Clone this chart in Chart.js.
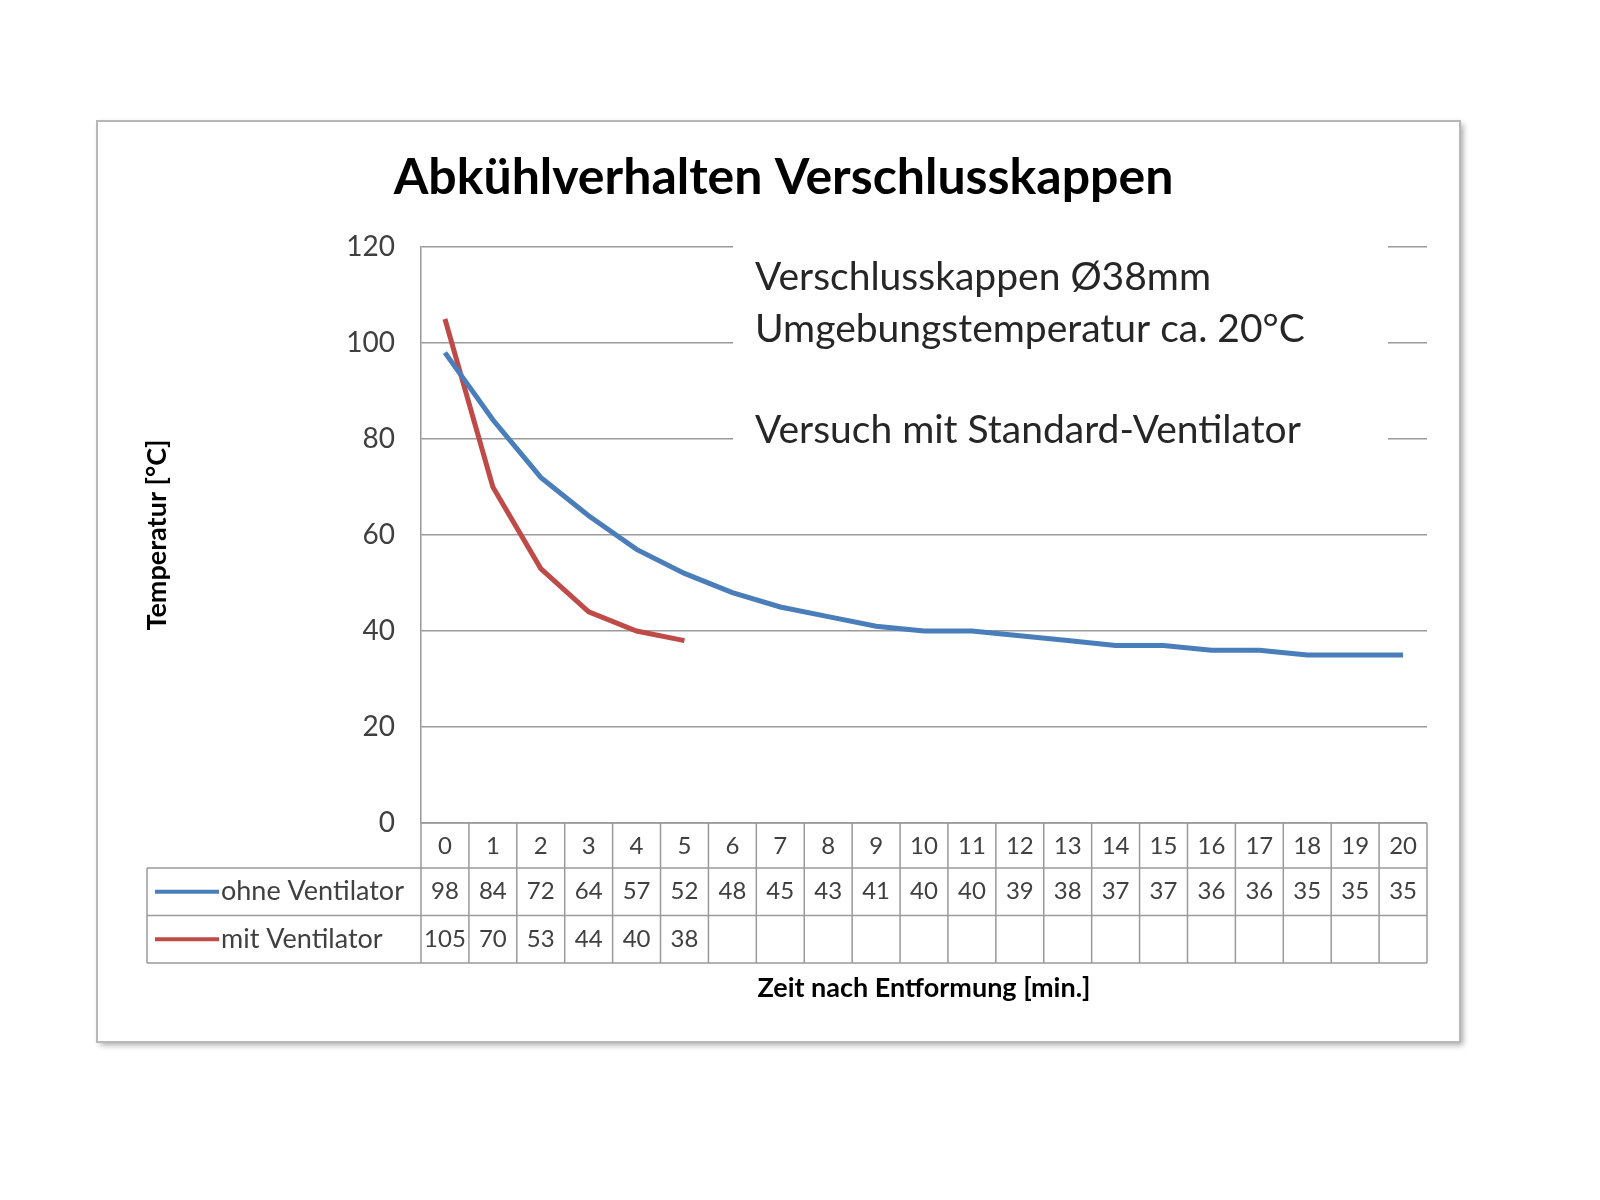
<!DOCTYPE html>
<html>
<head>
<meta charset="utf-8">
<title>Abkühlverhalten Verschlusskappen</title>
<script src="https://cdn.jsdelivr.net/npm/chart.js@4/dist/chart.umd.min.js"></script>
<style>
  html, body { margin: 0; padding: 0; background: #fff; }
  #wrap { width: 1600px; height: 1200px; }
</style>
</head>
<body>
<div id="wrap"><canvas id="chartCooling" width="1600" height="1200"></canvas></div>
<script>
// Zeit nach Entformung [min.]
var minutes = ['0', '1', '2', '3', '4', '5', '6', '7', '8', '9', '10',
               '11', '12', '13', '14', '15', '16', '17', '18', '19', '20'];
// Temperatur [°C]
var ohneVentilator = [98, 84, 72, 64, 57, 52, 48, 45, 43, 41, 40, 40, 39, 38, 37, 37, 36, 36, 35, 35, 35];
var mitVentilator = [105, 70, 53, 44, 40, 38];
var yTicks = [0, 20, 40, 60, 80, 100, 120];
var noteLines = ['Verschlusskappen Ø38mm', 'Umgebungstemperatur ca. 20°C', '', 'Versuch mit Standard-Ventilator'];

var blue = '#4a7ebb';
var red = '#be4b48';
var gridGray = '#9a9a9a';
var textGray = '#404040';
var fontName = 'Lato, "Open Sans", sans-serif';

// Rahmen um das ganze Diagramm
var framePlugin = {
    id: 'frame',
    beforeDraw: function (chart) {
        var ctx = chart.ctx;
        ctx.save();
        ctx.fillStyle = '#fff';
        ctx.fillRect(0, 0, chart.width, chart.height);
        ctx.shadowColor = 'rgba(0,0,0,0.35)';
        ctx.shadowBlur = 6;
        ctx.shadowOffsetX = 3;
        ctx.shadowOffsetY = 3;
        ctx.fillRect(97, 121, 1363, 921);
        ctx.shadowColor = 'transparent';
        ctx.strokeStyle = '#b8b8b8';
        ctx.lineWidth = 2;
        ctx.strokeRect(97, 121, 1363, 921);
        ctx.restore();
    }
};

// Datentabelle unter der Achse (wie in Excel)
var tablePlugin = {
    id: 'dataTable',
    afterDraw: function (chart) {
        var ctx = chart.ctx;
        var x = chart.scales.x;
        var area = chart.chartArea;
        var half = (x.getPixelForValue(1) - x.getPixelForValue(0)) / 2;
        var top = area.bottom;
        var r1 = top + 45, r2 = r1 + 47.5, r3 = r2 + 47.5;
        var headLeft = 147;

        ctx.save();
        ctx.strokeStyle = gridGray;
        ctx.lineWidth = 1.5;
        ctx.beginPath();
        ctx.moveTo(area.left, top); ctx.lineTo(area.right, top);
        [r1, r2, r3].forEach(function (y) {
            ctx.moveTo(headLeft, y); ctx.lineTo(area.right, y);
        });
        ctx.moveTo(headLeft, r1); ctx.lineTo(headLeft, r3);
        for (var i = 0; i <= minutes.length; i++) {
            var px = x.getPixelForValue(0) - half + i * half * 2;
            ctx.moveTo(px, top); ctx.lineTo(px, r3);
        }
        ctx.stroke();

        var rows = [
            { label: chart.data.datasets[0].label, data: chart.data.datasets[0].data, color: blue, y: (r1 + r2) / 2 },
            { label: chart.data.datasets[1].label, data: chart.data.datasets[1].data, color: red, y: (r2 + r3) / 2 }
        ];
        ctx.textBaseline = 'middle';
        rows.forEach(function (row) {
            ctx.strokeStyle = row.color;
            ctx.lineWidth = 4;
            ctx.beginPath();
            ctx.moveTo(155, row.y); ctx.lineTo(219, row.y);
            ctx.stroke();
            ctx.fillStyle = textGray;
            ctx.textAlign = 'left';
            ctx.font = '27px ' + fontName;
            ctx.fillText(row.label, 221, row.y);
            ctx.textAlign = 'center';
            ctx.font = '24px ' + fontName;
            row.data.forEach(function (v, i) {
                ctx.fillText(String(v), x.getPixelForValue(i), row.y);
            });
        });
        ctx.restore();
    }
};

// Textfeld mit Versuchsbedingungen
var notePlugin = {
    id: 'note',
    afterDatasetsDraw: function (chart) {
        var ctx = chart.ctx;
        ctx.save();
        ctx.fillStyle = '#fff';
        ctx.fillRect(733, 238, 655, 222);
        ctx.fillStyle = '#262626';
        ctx.font = '39px ' + fontName;
        ctx.textAlign = 'left';
        ctx.textBaseline = 'alphabetic';
        var baselines = [290, 342, 393, 443];
        noteLines.forEach(function (t, i) {
            if (t) ctx.fillText(t, 755, baselines[i]);
        });
        ctx.restore();
    }
};

var chartCooling = new Chart(document.getElementById('chartCooling'), {
    type: 'line',
    data: {
        labels: minutes,
        datasets: [
            {
                label: 'ohne Ventilator',
                data: ohneVentilator,
                borderColor: blue,
                backgroundColor: blue,
                borderWidth: 5,
                pointRadius: 0,
                tension: 0
            },
            {
                label: 'mit Ventilator',
                data: mitVentilator,
                borderColor: red,
                backgroundColor: red,
                borderWidth: 5,
                pointRadius: 0,
                tension: 0
            }
        ]
    },
    options: {
        responsive: false,
        animation: false,
        devicePixelRatio: 1,
        layout: { padding: { left: 140, right: 173, top: 0, bottom: 192 } },
        plugins: {
            legend: { display: false },
            tooltip: { enabled: false },
            title: {
                display: true,
                text: 'Abkühlverhalten Verschlusskappen',
                color: '#000',
                font: { family: fontName, size: 50, weight: 'bold' },
                padding: { top: 148, bottom: 39 }
            }
        },
        scales: {
            x: {
                offset: true,
                grid: { display: false, drawTicks: false },
                border: { display: false },
                ticks: {
                    color: textGray,
                    font: { family: fontName, size: 24 },
                    padding: 9,
                    maxRotation: 0,
                    autoSkip: false
                },
                title: {
                    display: true,
                    text: 'Zeit nach Entformung [min.]',
                    color: '#000',
                    font: { family: fontName, size: 27, weight: 'bold' },
                    padding: { top: 0, bottom: 4 }
                },
                afterFit: function (scale) { scale.height = 185; }
            },
            y: {
                min: 0,
                max: 120,
                afterBuildTicks: function (scale) {
                    scale.ticks = yTicks.map(function (v) { return { value: v }; });
                },
                grid: { color: gridGray, lineWidth: 1.5, drawTicks: false },
                border: { display: true, color: gridGray, width: 1.5 },
                ticks: {
                    color: textGray,
                    font: { family: fontName, size: 28 },
                    padding: 26
                },
                title: {
                    display: true,
                    text: 'Temperatur [°C]',
                    color: '#000',
                    font: { family: fontName, size: 27, weight: 'bold' },
                    padding: { top: 1, bottom: 0 }
                },
                afterFit: function (scale) { scale.width = 281; }
            }
        }
    },
    plugins: [framePlugin, tablePlugin, notePlugin]
});
</script>
</body>
</html>
